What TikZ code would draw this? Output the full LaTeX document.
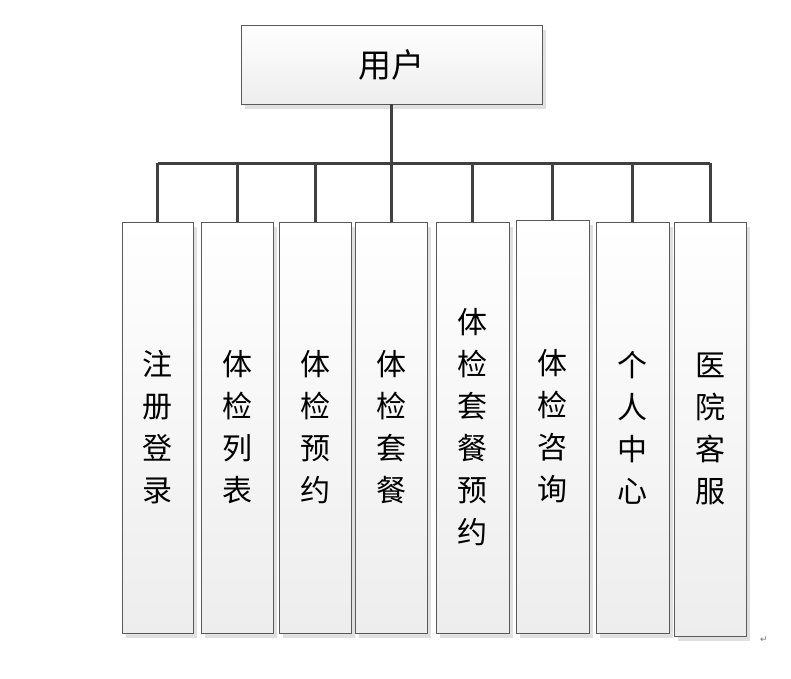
\documentclass[tikz,border=0pt]{standalone}
\usepackage{fontspec}
\newfontfamily\cjk{Noto Sans CJK SC}
\newfontfamily\symf{DejaVu Sans}
\usetikzlibrary{shadows}
\definecolor{linec}{HTML}{404040}
\definecolor{boxline}{HTML}{5A5A5A}
\tikzset{
  boxstyle/.style={draw=boxline, line width=0.9pt, top color=white, bottom color=black!7,
    general shadow={fill=black!12, shadow xshift=4pt, shadow yshift=-5pt},
    inner sep=0pt, font=\cjk\fontsize{30}{42}\selectfont, align=center},
  conn/.style={draw=linec, line width=3pt}
}
\begin{document}
\begin{tikzpicture}[x=1pt,y=-1pt]
\useasboundingbox[fill=white] (0,0) rectangle (791,678);
\node[boxstyle, minimum width=301pt, minimum height=79pt, font=\cjk\fontsize{33}{40}\selectfont] (top) at (391.5,64.5) {用户};
\node[boxstyle, minimum width=71pt, minimum height=411pt] (b1) at (157.5,427.5) {注\\册\\登\\录};
\node[boxstyle, minimum width=72pt, minimum height=411pt] (b2) at (237,427.5) {体\\检\\列\\表};
\node[boxstyle, minimum width=72pt, minimum height=411pt] (b3) at (315,427.5) {体\\检\\预\\约};
\node[boxstyle, minimum width=72pt, minimum height=411pt] (b4) at (391,427.5) {体\\检\\套\\餐};
\node[boxstyle, minimum width=73pt, minimum height=411pt] (b5) at (472.5,427.5) {体\\检\\套\\餐\\预\\约};
\node[boxstyle, minimum width=73pt, minimum height=413pt] (b6) at (552.5,426.5) {体\\检\\咨\\询};
\node[boxstyle, minimum width=73pt, minimum height=411pt] (b7) at (632.5,427.5) {个\\人\\中\\心};
\node[boxstyle, minimum width=72pt, minimum height=414pt] (b8) at (710,429) {医\\院\\客\\服};
\coordinate (bar) at (0,163);
\draw[conn] (top.south) -- (top.south |- bar);
\draw[conn] (b1.north |- bar) -- (b8.north |- bar);
\foreach \b in {b1,b2,b3,b4,b5,b6,b7,b8}{
  \draw[conn] (\b.north) -- (\b.north |- bar);
}
\node[text=black!55, font=\symf\fontsize{9}{9}\selectfont, inner sep=0pt] (mark) at (764,640) {↵};
\end{tikzpicture}
\end{document}
